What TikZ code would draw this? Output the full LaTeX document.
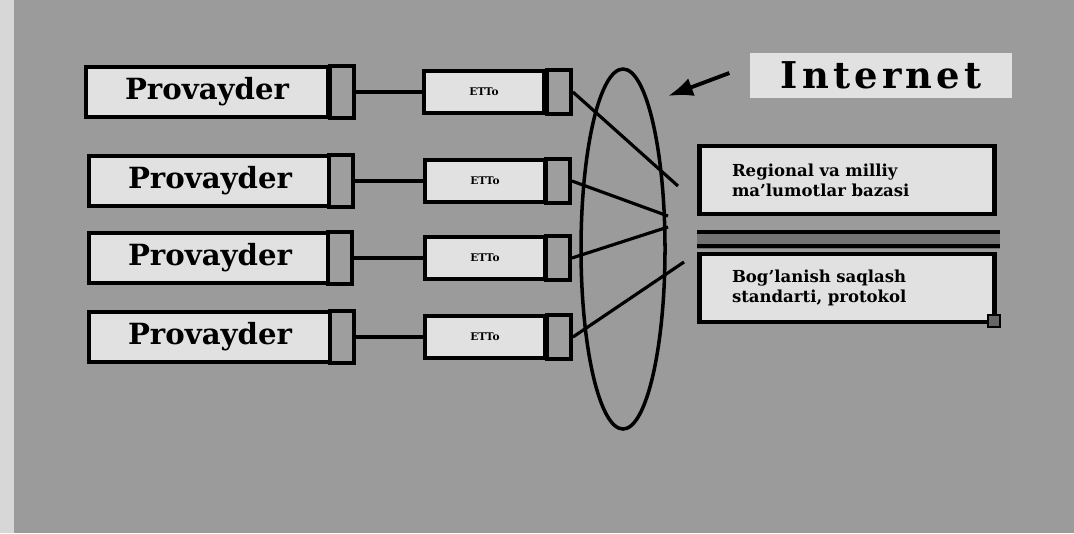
\documentclass[tikz,border=0pt]{standalone}
\usepackage{fontspec}
\setmainfont{DejaVu Serif}
\usetikzlibrary{arrows.meta,positioning,shapes.geometric}
\definecolor{bggray}{HTML}{9B9B9B}
\definecolor{boxgray}{HTML}{E1E1E1}
\definecolor{tabgray}{HTML}{9E9E9E}

\begin{document}
\begin{tikzpicture}[x=0.1mm,y=-0.1mm,>=Latex,
  provbox/.style={draw=black,line width=1.1pt,fill=boxgray,minimum width=24.2mm,minimum height=5mm,inner sep=0pt,font=\fontsize{8.3}{9}\bfseries},
  ettbox/.style={draw=black,line width=1.1pt,fill=boxgray,minimum width=12mm,minimum height=4.2mm,inner sep=0pt,font=\fontsize{3}{3.5}\bfseries},
  tabbox/.style={draw=black,line width=1.1pt,fill=tabgray,minimum width=2.4mm,minimum height=5.2mm,inner sep=0pt},
  infobox/.style={draw=black,line width=1.3pt,fill=boxgray,minimum width=29.5mm,minimum height=6.8mm,inner sep=0pt,align=left,text width=23mm,font=\fontsize{4.7}{5.6}\bfseries},
  link/.style={line width=0.9pt}]
\fill[bggray] (0,0) rectangle (1074,533);
\fill[bggray!40!white] (0,0) rectangle (14,533);
\useasboundingbox (0,0) rectangle (1074,533);
% providers
\node[provbox] (p1) at (207,92) {Provayder};
\node[tabbox] (t1) at (342,92) {};
\node[provbox] (p2) at (210,181) {Provayder};
\node[tabbox] (t2) at (341,181) {};
\node[provbox] (p3) at (210,258) {Provayder};
\node[tabbox] (t3) at (340,258) {};
\node[provbox] (p4) at (210,337) {Provayder};
\node[tabbox] (t4) at (342,337) {};
% ETTo
\node[ettbox] (e1) at (484,92) {ETTo};
\node[tabbox,minimum height=4.4mm] (f1) at (559,92) {};
\node[ettbox] (e2) at (485,181) {ETTo};
\node[tabbox,minimum height=4.4mm] (f2) at (558,181) {};
\node[ettbox] (e3) at (485,258) {ETTo};
\node[tabbox,minimum height=4.4mm] (f3) at (558,258) {};
\node[ettbox] (e4) at (485,337) {ETTo};
\node[tabbox,minimum height=4.4mm] (f4) at (559,337) {};
\draw[link] (t1.east)--(e1.west);
\draw[link] (t2.east)--(e2.west);
\draw[link] (t3.east)--(e3.west);
\draw[link] (t4.east)--(e4.west);
% internet
\node[draw=black,line width=1pt,ellipse,minimum width=8.4mm,minimum height=36mm,inner sep=0pt] (net) at (623,249) {};
\coordinate (h1) at (678,186);
\coordinate (h2) at (668,216);
\coordinate (h3) at (668,227);
\coordinate (h4) at (684,262);
\draw[link] (f1.east)--(h1);
\draw[link] (f2.east)--(h2);
\draw[link] (f3.east)--(h3);
\draw[link] (f4.east)--(h4);
\node[fill=boxgray,minimum width=26.2mm,minimum height=4.5mm,inner sep=0pt,font=\fontsize{10.5}{12}\bfseries] (inet) at (881,75) {I\kern1.2pt n\kern1.2pt t\kern1.2pt e\kern1.2pt r\kern1.2pt n\kern1.2pt e\kern1.2pt t};
\coordinate (ia) at (668,96);
\draw[line width=1.1pt,-{Latex[length=2.5mm]}] (inet.west)++(-2mm,0.2mm)--(ia);
% right stack
\node[infobox] (db) at (847,180) {Regional va milliy\\ma'lumotlar bazasi};
\fill[black!55] (697,230) rectangle (1000,249);
\draw[line width=1.2pt] (697,232)--(1000,232) (697,246)--(1000,246);
\node[infobox] (std) at (847,288) {Bog'lanish saqlash\\standarti, protokol};
\node[draw=black,fill=black!60,minimum size=1.2mm,inner sep=0pt] (sq) at (994,321) {};
\end{tikzpicture}
\end{document}
